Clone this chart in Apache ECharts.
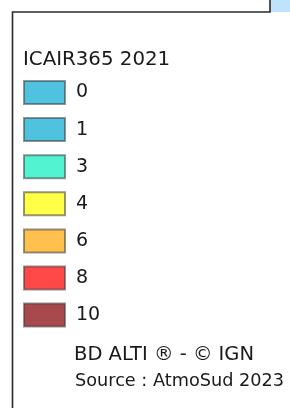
<!DOCTYPE html>
<html>
<head>
<meta charset="utf-8">
<script src="https://cdn.jsdelivr.net/npm/echarts@6/dist/echarts.min.js"></script>
<style>
html,body{margin:0;padding:0;background:#fff;}
#chart{width:290px;height:408px;}
</style>
</head>
<body>
<div id="chart"></div>
<script>
var legendTitle = 'ICAIR365 2021';
var categories = ['0', '1', '3', '4', '6', '8', '10'];
var classColors = ['#4EC2DE', '#4EC2DE', '#52F3D0', '#FFFF47', '#FFC04E', '#FF4848', '#A8494D'];
var creditLines = ['BD ALTI \u00AE - \u00A9 IGN', 'Source : AtmoSud 2023'];

var FONT = 'DejaVu Sans';
var chart = echarts.init(document.getElementById('chart'), null, {renderer: 'canvas'});

var series = categories.map(function (c, i) {
  return {
    type: 'bar',
    name: c,
    data: [],
    itemStyle: {color: classColors[i], borderColor: 'rgba(60,60,60,0.55)', borderWidth: 1}
  };
});

chart.setOption({
  animation: false,
  backgroundColor: '#ffffff',
  grid: {show: false, left: -10, top: -10, width: 1, height: 1},
  xAxis: {show: false, type: 'category', data: ['a']},
  yAxis: {show: false, type: 'value'},
  title: [
    {text: legendTitle, left: 23, top: 48, padding: 0,
     textStyle: {fontFamily: FONT, fontSize: 19.8, fontWeight: 'normal', color: '#1a1a1a', lineHeight: 24}},
    {text: creditLines[0], left: 74, top: 343, padding: 0,
     textStyle: {fontFamily: FONT, fontSize: 19.5, fontWeight: 'normal', color: '#1a1a1a', lineHeight: 24}},
    {text: creditLines[1], left: 75, top: 369, padding: 0,
     textStyle: {fontFamily: FONT, fontSize: 17.7, fontWeight: 'normal', color: '#1a1a1a', lineHeight: 24}}
  ],
  legend: {
    orient: 'vertical',
    left: 23,
    top: 80,
    padding: 0,
    icon: 'rect',
    itemWidth: 41,
    itemHeight: 23,
    itemGap: 12.1,
    selectedMode: false,
    data: categories,
    textStyle: {fontFamily: FONT, fontSize: 19, color: '#1a1a1a', lineHeight: 19, padding: [4, 0, 0, 6]}
  },
  graphic: [
    {type: 'rect', shape: {x: 270, y: 0, width: 22, height: 12}, style: {fill: '#BEE3FA'}, silent: true},
    {type: 'polyline', shape: {points: [[12.5, 420], [12.5, 12], [270, 12], [270, -2]]},
     style: {stroke: '#2a2a2a', lineWidth: 1.6, fill: null}, silent: true}
  ],
  series: series
});
</script>
</body>
</html>
